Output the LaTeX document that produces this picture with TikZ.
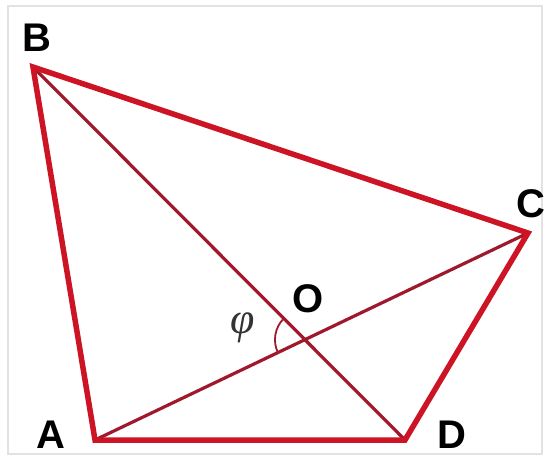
\documentclass[tikz,border=0pt]{standalone}
\usepackage{amsmath,amssymb}
\usepackage{fontspec}
\setmainfont{Liberation Sans}
\newfontfamily\phifont{Liberation Serif}
\usepackage{tikz}
\usetikzlibrary{arrows.meta,calc}
\usepackage{xcolor}
\definecolor{SideRed}{HTML}{CC1424}
\definecolor{DiagRed}{HTML}{A0182C}
\definecolor{FrameGray}{HTML}{E2E2E2}
\definecolor{PhiGray}{HTML}{333333}

\begin{document}
\begin{tikzpicture}[>=Latex,x=1pt,y=1pt,
  side/.style={draw=SideRed,line width=5.5pt,line join=miter},
  diag/.style={draw=DiagRed,line width=3.2pt},
  vlabel/.style={font=\fontsize{40}{48}\selectfont\bfseries,inner sep=0pt}]
\useasboundingbox (0,0) rectangle (552,-459);
\draw[FrameGray,line width=1.5pt] (8,-6) rectangle (542,-454);
% vertices
\coordinate (A) at (95,-440);
\coordinate (B) at (33,-67);
\coordinate (C) at (528,-233);
\coordinate (D) at (405,-440);
\coordinate (O) at (intersection of B--D and A--C);
% diagonals
\draw[diag] (B) -- (D);
\draw[diag] (A) -- (C);
\draw[DiagRed,line width=1.8pt] ($(O)+(135.1:30)$) arc[start angle=135.1,end angle=205.5,radius=30];
% sides
\draw[side] (A) -- (B) -- (C) -- (D) -- cycle;
% labels
\node[vlabel] (labB) at (37,-38) {B};
\node[vlabel] (labC) at (531,-204) {C};
\node[vlabel] (labO) at (308,-299) {O};
\node[vlabel] (labA) at (51,-435) {A};
\node[vlabel] (labD) at (452,-435) {D};
\node[inner sep=0pt,text=PhiGray,font=\fontsize{44}{50}\selectfont\phifont\itshape] (phi) at (243,-328) {φ};
\end{tikzpicture}
\end{document}
